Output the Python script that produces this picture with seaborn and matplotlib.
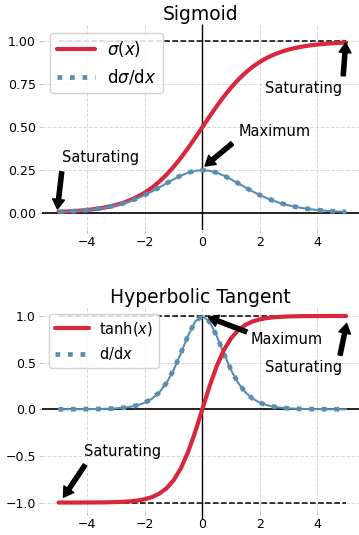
import numpy as np
import pandas as pd
import matplotlib
matplotlib.use("Agg")
import matplotlib.pyplot as plt
import seaborn as sns

# ---------------- data ----------------
x_vals = [-5.0, -4.75, -4.5, -4.25, -4.0, -3.75, -3.5, -3.25, -3.0, -2.75,
          -2.5, -2.25, -2.0, -1.75, -1.5, -1.25, -1.0, -0.75, -0.5, -0.25,
          0.0, 0.25, 0.5, 0.75, 1.0, 1.25, 1.5, 1.75, 2.0, 2.25,
          2.5, 2.75, 3.0, 3.25, 3.5, 3.75, 4.0, 4.25, 4.5, 4.75, 5.0]

sigmoid_vals = [0.0067, 0.0086, 0.0110, 0.0141, 0.0180, 0.0230, 0.0293, 0.0373, 0.0474, 0.0601,
                0.0759, 0.0953, 0.1192, 0.1480, 0.1824, 0.2227, 0.2689, 0.3208, 0.3775, 0.4378,
                0.5000, 0.5622, 0.6225, 0.6792, 0.7311, 0.7773, 0.8176, 0.8520, 0.8808, 0.9047,
                0.9241, 0.9399, 0.9526, 0.9627, 0.9707, 0.9770, 0.9820, 0.9859, 0.9890, 0.9914, 0.9933]

dsigmoid_vals = [0.0066, 0.0085, 0.0109, 0.0139, 0.0177, 0.0225, 0.0284, 0.0359, 0.0452, 0.0565,
                 0.0701, 0.0862, 0.1050, 0.1261, 0.1491, 0.1731, 0.1966, 0.2179, 0.2350, 0.2461,
                 0.2500, 0.2461, 0.2350, 0.2179, 0.1966, 0.1731, 0.1491, 0.1261, 0.1050, 0.0862,
                 0.0701, 0.0565, 0.0452, 0.0359, 0.0284, 0.0225, 0.0177, 0.0139, 0.0109, 0.0085, 0.0066]

tanh_vals = [-0.9999, -0.9999, -0.9998, -0.9996, -0.9993, -0.9989, -0.9982, -0.9970, -0.9951, -0.9919,
             -0.9866, -0.9780, -0.9640, -0.9414, -0.9051, -0.8483, -0.7616, -0.6351, -0.4621, -0.2449,
             0.0000, 0.2449, 0.4621, 0.6351, 0.7616, 0.8483, 0.9051, 0.9414, 0.9640, 0.9780,
             0.9866, 0.9919, 0.9951, 0.9970, 0.9982, 0.9989, 0.9993, 0.9996, 0.9998, 0.9999, 0.9999]

dtanh_vals = [0.0002, 0.0003, 0.0005, 0.0008, 0.0013, 0.0022, 0.0036, 0.0060, 0.0099, 0.0162,
              0.0266, 0.0435, 0.0707, 0.1138, 0.1807, 0.2804, 0.4200, 0.5966, 0.7864, 0.9400,
              1.0000, 0.9400, 0.7864, 0.5966, 0.4200, 0.2804, 0.1807, 0.1138, 0.0707, 0.0435,
              0.0266, 0.0162, 0.0099, 0.0060, 0.0036, 0.0022, 0.0013, 0.0008, 0.0005, 0.0003, 0.0002]

titles = ["Sigmoid", "Hyperbolic Tangent"]
labels_top = [r"$\sigma(x)$", r"d$\sigma$/d$x$"]
labels_bot = [r"tanh($x$)", r"d/d$x$"]
xticks = [-4, -2, 0, 2, 4]
yticks_top = [0.0, 0.25, 0.5, 0.75, 1.0]
yticks_bot = [-1.0, -0.5, 0.0, 0.5, 1.0]

df = pd.DataFrame({"x": x_vals, "sig": sigmoid_vals, "dsig": dsigmoid_vals,
                   "tanh": tanh_vals, "dtanh": dtanh_vals})

RED = "#D7263D"
BLUE = "#5B8DB0"

sns.set_theme(style="whitegrid")
plt.rcParams["font.family"] = ["DejaVu Sans"]
plt.rcParams["mathtext.fontset"] = "dejavusans"
plt.rcParams["text.color"] = "black"
plt.rcParams["axes.labelcolor"] = "black"

fig = plt.figure(figsize=(3.59, 5.35), dpi=100)
fig.patch.set_facecolor("white")
ax1 = fig.add_axes([0.117, 0.5697, 0.883, 0.3849])
ax2 = fig.add_axes([0.117, 0.0432, 0.883, 0.3836])

XL = (-5.576, 5.45)


def style_axes(ax, yticks, ylim, fmt):
    ax.set_xlim(*XL)
    ax.set_ylim(*ylim)
    ax.set_xticks(xticks)
    ax.set_yticks(yticks)
    ax.set_yticklabels([fmt.format(v).replace("-", "\u2212") for v in yticks])
    ax.set_xticklabels([str(v).replace("-", "\u2212") for v in xticks])
    for s in ax.spines.values():
        s.set_visible(False)
    ax.grid(True, linestyle="--", color="#d8d8d8", linewidth=0.7)
    ax.tick_params(axis="both", which="both", length=2.5, width=0.7, color="#bbbbbb",
                   labelsize=9, pad=2, left=True, bottom=True, labelcolor="black")
    ax.set_facecolor("white")


ARW = dict(facecolor="black", edgecolor="black", width=3.0, headwidth=8.5, headlength=7, shrink=0.0)


def arrow(ax, tail, head):
    ax.annotate("", xy=head, xytext=tail, arrowprops=ARW, zorder=6)


# ---------------- Sigmoid ----------------
style_axes(ax1, yticks_top, (-0.1, 1.1), "{:.2f}")
ax1.axhline(0, color="black", lw=1.2, zorder=2)
ax1.vlines(0, -0.1, 1.1, color="black", lw=1.0, zorder=2)
ax1.hlines(1, -5, 5, colors="black", linestyles="--", lw=1.1, zorder=2)
sns.lineplot(data=df, x="x", y="sig", ax=ax1, color=RED, lw=3, label=labels_top[0], zorder=3)
sns.lineplot(data=df, x="x", y="dsig", ax=ax1, color=BLUE, lw=1.5, zorder=4)
sns.lineplot(data=df, x="x", y="dsig", ax=ax1, color=BLUE, lw=3.4, linestyle=":",
             label=labels_top[1], zorder=4)
ax1.set_xlabel("")
ax1.set_ylabel("")
ax1.set_title(titles[0], fontsize=13.5, pad=2.5, color="black")
h, l = ax1.get_legend_handles_labels()
ax1.legend(h, l, loc="upper left", fontsize=12, handlelength=2.3, handletextpad=0.7,
           borderaxespad=0.5, framealpha=0.85, edgecolor="#cccccc")

ax1.text(3.52, 0.70, "Saturating", fontsize=10.5, ha="center", va="baseline", color="black")
arrow(ax1, (4.90, 0.80), (4.99, 0.992))
ax1.text(2.50, 0.449, "Maximum", fontsize=10.5, ha="center", va="baseline", color="black")
arrow(ax1, (1.04, 0.406), (0.094, 0.274))
ax1.text(-3.54, 0.296, "Saturating", fontsize=10.5, ha="center", va="baseline", color="black")
arrow(ax1, (-4.89, 0.24), (-5.04, 0.023))

# ---------------- tanh ----------------
style_axes(ax2, yticks_bot, (-1.1, 1.1), "{:.1f}")
ax2.axhline(0, color="black", lw=1.2, zorder=2)
ax2.vlines(0, -1.175, 1.0, color="black", lw=1.0, zorder=2, clip_on=False)
ax2.hlines([1, -1], -5, 5, colors="black", linestyles="--", lw=1.1, zorder=2)
sns.lineplot(data=df, x="x", y="tanh", ax=ax2, color=RED, lw=3, label=labels_bot[0], zorder=5)
sns.lineplot(data=df, x="x", y="dtanh", ax=ax2, color=BLUE, lw=1.5, zorder=4)
sns.lineplot(data=df, x="x", y="dtanh", ax=ax2, color=BLUE, lw=3.4, linestyle=":",
             label=labels_bot[1], zorder=4)
ax2.set_xlabel("")
ax2.set_ylabel("")
ax2.set_title(titles[1], fontsize=13.5, pad=2.5, color="black")
h, l = ax2.get_legend_handles_labels()
ax2.legend(h, l, loc="upper left", fontsize=10.5, handlelength=2.3, handletextpad=0.7,
           borderaxespad=0.5, framealpha=0.85, edgecolor="#cccccc")

ax2.text(2.94, 0.70, "Maximum", fontsize=10.5, ha="center", va="baseline", color="black")
arrow(ax2, (1.54, 0.83), (0.21, 0.986))
ax2.text(3.53, 0.403, "Saturating", fontsize=10.5, ha="center", va="baseline", color="black")
arrow(ax2, (4.79, 0.58), (5.02, 0.92))
ax2.text(-2.78, -0.50, "Saturating", fontsize=10.5, ha="center", va="baseline", color="black")
arrow(ax2, (-4.08, -0.597), (-4.83, -0.943))

fig.savefig("out.png", dpi=100, facecolor="white")
